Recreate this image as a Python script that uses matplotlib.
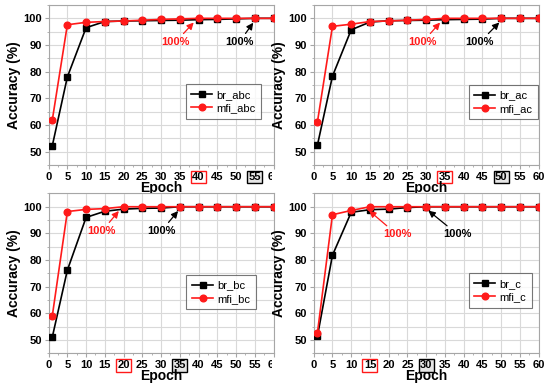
import matplotlib
matplotlib.use("Agg")
import matplotlib.pyplot as plt
from matplotlib.ticker import MultipleLocator
from matplotlib.transforms import Bbox

plt.rcParams['font.family'] = ['Liberation Sans', 'DejaVu Sans']
plt.rcParams['font.weight'] = 'bold'

epochs = [1, 5, 10, 15, 20, 25, 30, 35, 40, 45, 50, 55, 60]

br_abc = [52.3, 78.0, 96.5, 98.8, 99.0, 99.1, 99.2, 99.3, 99.5, 99.6, 99.8, 100, 100]
mfi_abc = [62.0, 97.6, 98.5, 98.8, 99.0, 99.3, 99.6, 99.8, 100, 100, 100, 100, 100]
br_ac = [52.5, 78.3, 95.7, 98.6, 99.1, 99.2, 99.3, 99.5, 99.6, 99.7, 100, 100, 100]
mfi_ac = [61.2, 97.0, 97.8, 98.8, 99.0, 99.3, 99.6, 100, 100, 100, 100, 100, 100]
br_bc = [51.2, 76.2, 96.0, 98.3, 99.1, 99.4, 99.5, 100, 100, 100, 100, 100, 100]
mfi_bc = [59.2, 98.2, 99.0, 99.3, 100, 100, 100, 100, 100, 100, 100, 100, 100]
br_c = [51.5, 81.8, 97.9, 98.9, 99.1, 99.7, 100, 100, 100, 100, 100, 100, 100]
mfi_c = [52.8, 97.0, 98.6, 100, 100, 100, 100, 100, 100, 100, 100, 100, 100]

panels = [
    # name, br, mfi, red epoch, black epoch, red text pos, black text pos, legend anchor
    ("abc", br_abc, mfi_abc, 40, 55, (33.8, 91.0), (50.8, 91.0), (0.584, 0.54)),
    ("ac", br_ac, mfi_ac, 35, 50, (29.0, 91.0), (44.3, 91.0), (0.664, 0.535)),
    ("bc", br_bc, mfi_bc, 20, 35, (14.2, 90.8), (30.0, 90.8), (0.588, 0.525)),
    ("c", br_c, mfi_c, 15, 30, (22.2, 89.6), (38.4, 89.6), (0.664, 0.535)),
]

W, H = 544, 392
fig = plt.figure(figsize=(W / 100, H / 100), dpi=100)
rects = [
    (48.6, 5.0), (313.7, 5.0), (48.6, 193.4), (313.7, 193.4)
]
aw, ah = 225.0, 160.0

gridc = '#d9d9d9'
spc = '#a6a6a6'
red = '#ff1a1a'

for idx, ((name, br, mfi, rep, bep, rtxt, btxt, lanc), (x0, y0)) in enumerate(zip(panels, rects)):
    ax = fig.add_axes([x0 / W, 1 - (y0 + ah) / H, aw / W, ah / H])
    ax.set_xlim(0, 60)
    ax.set_ylim(45, 105)
    ax.xaxis.set_major_locator(MultipleLocator(5))
    ax.yaxis.set_minor_locator(MultipleLocator(5))
    ax.xaxis.set_minor_locator(MultipleLocator(2.5))
    ax.set_yticks([50, 60, 70, 80, 90, 100])
    ax.grid(True, which='major', color=gridc, lw=0.8)
    ax.grid(True, which='minor', axis='y', color=gridc, lw=0.8)
    ax.set_axisbelow(True)
    for s in ax.spines.values():
        s.set_color(spc)
        s.set_linewidth(0.8)
    ax.tick_params(which='both', direction='out', color=spc, labelsize=8, pad=2)
    ax.tick_params(which='major', length=3)
    ax.tick_params(which='minor', length=1.5)

    ax.plot(epochs, br, color='black', marker='s', ms=4.2, lw=1.2, label='br_' + name, zorder=3)
    ax.plot(epochs, mfi, color=red, marker='o', ms=4.8, lw=1.2, label='mfi_' + name, zorder=4)

    ax.set_xlabel('Epoch', fontsize=10, fontweight='bold', labelpad=-1)
    ax.set_ylabel('Accuracy (%)', fontsize=10, fontweight='bold', labelpad=1.5)

    fig.canvas.draw()
    for lbl in ax.get_xticklabels():
        try:
            v = int(float(lbl.get_text().replace('\u2212', '-')))
        except ValueError:
            continue
        if v == rep:
            lbl.set_bbox(dict(boxstyle='square,pad=0.12', fc='white', ec=red, lw=1.0))
        elif v == bep:
            lbl.set_bbox(dict(boxstyle='square,pad=0.12', fc='#e6e6e6', ec='black', lw=1.0))
        if v == 60 and idx % 2 == 0:
            lbl.set_clip_box(Bbox([[0, 0], [272, H]]))
            lbl.set_clip_on(True)

    ax.annotate('100%', xy=(rep - 0.8, 99.2), xytext=rtxt, color=red, fontsize=8,
                fontweight='bold', ha='center', va='center',
                arrowprops=dict(arrowstyle='-|>,head_length=0.5,head_width=0.25', color=red,
                                lw=0.9, shrinkA=1, shrinkB=2))
    ax.annotate('100%', xy=(bep, 99.2), xytext=btxt, color='black', fontsize=8,
                fontweight='bold', ha='center', va='center',
                arrowprops=dict(arrowstyle='-|>,head_length=0.5,head_width=0.25', color='black',
                                lw=0.9, shrinkA=1, shrinkB=2))

    leg = ax.legend(loc='upper left', bbox_to_anchor=lanc, frameon=True, fancybox=False,
                    edgecolor='#555555', fontsize=8, handlelength=1.9, borderpad=0.5,
                    labelspacing=0.3, handletextpad=0.4)
    leg.get_frame().set_linewidth(0.8)
    for t in leg.get_texts():
        t.set_fontweight('normal')

fig.savefig('out.png', dpi=100)
